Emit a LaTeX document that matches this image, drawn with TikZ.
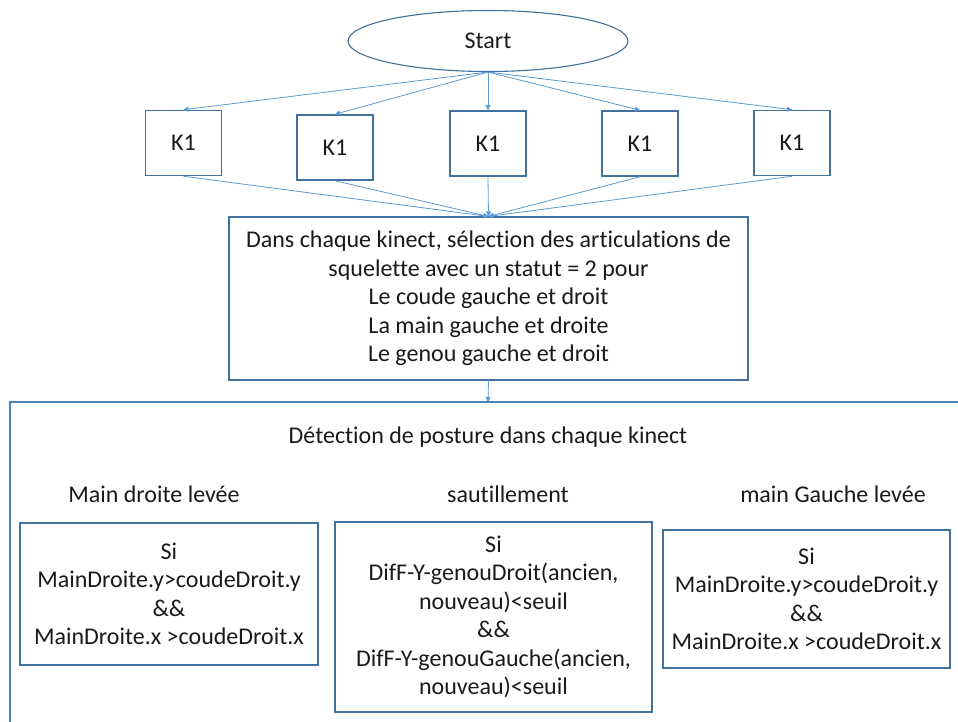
\documentclass[tikz,border=0pt]{standalone}
\usepackage{fontspec}
\setmainfont{Carlito}[Ligatures=NoCommon]
\usetikzlibrary{arrows.meta,shapes.geometric}
\definecolor{boxblue}{HTML}{41719C}
\definecolor{linkblue}{HTML}{5B9BD5}
\definecolor{txt}{HTML}{1A1A1A}
\begin{document}
\begin{tikzpicture}[x=1pt,y=-1pt,
  every node/.style={text=txt,font=\fontsize{24}{28.5}\selectfont},
  kbox/.style={draw=boxblue,line width=1.5pt,minimum width=76pt,minimum height=65pt,inner sep=0pt},
  bigbox/.style={draw=boxblue,line width=1.1pt,inner sep=0pt,align=center},
  link/.style={draw=linkblue,line width=0.8pt,-{Triangle[width=5pt,length=5pt]}},
  lbl/.style={inner sep=0pt}]
\useasboundingbox (0,0) rectangle (958,722);
\fill[white] (0,0) rectangle (958,722);
\node[ellipse,draw=boxblue,line width=1.1pt,minimum width=280pt,minimum height=61pt,inner sep=0pt] (start) at (488,41) {Start};
\node[kbox] (k1) at (183.5,143) {K1};
\node[kbox] (k2) at (335,147.5) {K1};
\node[kbox] (k3) at (488,143.5) {K1};
\node[kbox] (k4) at (640,143.5) {K1};
\node[kbox] (k5) at (792,143) {K1};
\node[bigbox,minimum width=519pt,minimum height=163pt] (sel) at (488.5,298.5) {Dans chaque kinect, sélection des articulations de\\squelette avec un statut = 2 pour\\Le coude gauche et droit\\La main gauche et droite\\Le genou gauche et droit};
\foreach \k in {k1,k2,k3,k4,k5} {
  \draw[link] (start.south) -- (\k.north);
  \draw[link] (\k.south) -- (sel.north);
}
\coordinate (ftop) at (488,402);
\coordinate (fright) at (958,402);
\coordinate (fleft) at (10,402);
\coordinate (fbottom) at (10,722);
\draw[draw=linkblue!85!black,line width=1.4pt] (fright) -- (fleft) -- (fbottom);
\draw[link] (sel.south) -- (ftop);
\node[lbl] (det) at (488,437) {Détection de posture dans chaque kinect};
\node[lbl] (l1) at (154,494) {Main droite levée};
\node[lbl] (l2) at (508,494) {sautillement};
\node[lbl] (l3) at (833,494) {main Gauche levée};
\node[bigbox,minimum width=298pt,minimum height=142pt] (bl) at (169,594) {Si\\MainDroite.y>coudeDroit.y\\\&\&\\MainDroite.x >coudeDroit.x};
\node[bigbox,minimum width=317pt,minimum height=190pt] (bm) at (493.5,617) {Si\\DifF-Y-genouDroit(ancien,\\nouveau)<seuil\\\&\&\\DifF-Y-genouGauche(ancien,\\nouveau)<seuil};
\node[bigbox,minimum width=287pt,minimum height=138pt] (br) at (806.5,599) {Si\\MainDroite.y>coudeDroit.y\\\&\&\\MainDroite.x >coudeDroit.x};
\end{tikzpicture}
\end{document}
